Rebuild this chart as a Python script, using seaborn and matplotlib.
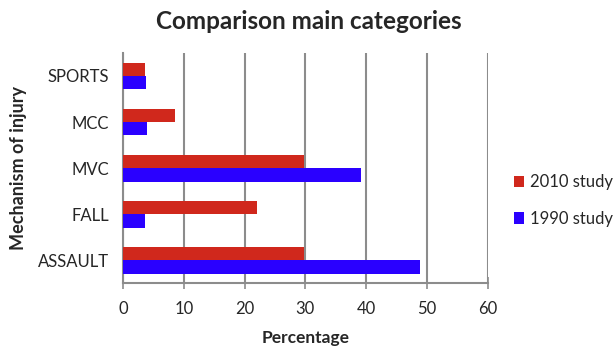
import matplotlib
matplotlib.use("Agg")
import matplotlib.pyplot as plt
import seaborn as sns
import pandas as pd

categories = ["SPORTS", "MCC", "MVC", "FALL", "ASSAULT"]
study_2010 = [3.6, 8.6, 29.7, 22.1, 29.7]
study_1990 = [3.8, 4.0, 39.1, 3.6, 48.9]
series_names = ["2010 study", "1990 study"]
colors = ["#D0281C", "#2A00FF"]
x_ticks = [0, 10, 20, 30, 40, 50, 60]

df = pd.DataFrame({
    "Mechanism": categories * 2,
    "Percentage": study_2010 + study_1990,
    "Study": [series_names[0]] * len(categories) + [series_names[1]] * len(categories),
})

sns.set_theme(style="white")
plt.rcParams["font.family"] = ["Lato", "DejaVu Sans"]

fig = plt.figure(figsize=(6.13, 3.46), dpi=100)
ax = fig.add_axes([0.2007, 0.181, 0.5949, 0.666])

sns.barplot(data=df, y="Mechanism", x="Percentage", hue="Study",
            order=categories, hue_order=series_names,
            palette=colors, orient="h", width=0.58, ax=ax,
            saturation=1, edgecolor="none", zorder=3)

ax.set_xlim(0, 60)
ax.set_xticks(x_ticks)
ax.set_xticklabels([str(t) for t in x_ticks], fontsize=12)
ax.tick_params(axis="y", labelsize=12, length=0, pad=10)
ax.tick_params(axis="x", direction="inout", length=8, width=1.2, color="#8c8c8c",
               bottom=True, pad=9)
ax.xaxis.grid(True, color="#8c8c8c", linewidth=1.5, zorder=0)
ax.set_axisbelow(True)
for side in ["top", "right"]:
    ax.spines[side].set_visible(False)
for side in ["left", "bottom"]:
    ax.spines[side].set_color("#8c8c8c")
    ax.spines[side].set_linewidth(1.5)

ax.set_xlabel("Percentage", fontsize=12.5, fontweight="bold", labelpad=9)
ax.set_ylabel("Mechanism of injury", fontsize=13, fontweight="bold", labelpad=8)
fig.suptitle("Comparison main categories", x=0.503, y=0.97,
             fontsize=17.5, fontweight="bold")

leg = ax.legend(loc="center left", bbox_to_anchor=(1.03, 0.36), frameon=False,
                fontsize=12, handlelength=0.65, handleheight=0.65,
                handletextpad=0.35, labelspacing=1.25)

fig.savefig("out.png", dpi=100)
